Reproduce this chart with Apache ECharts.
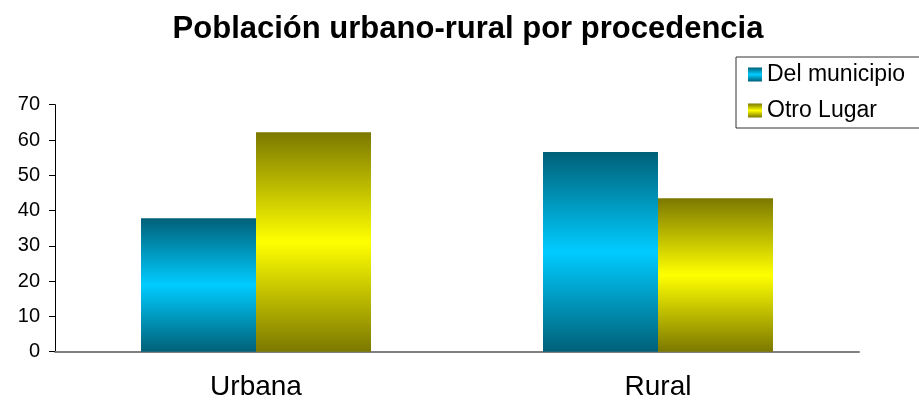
<!DOCTYPE html>
<html>
<head>
    <meta charset="utf-8">
    <title>ECharts</title>
    <script type="text/javascript" src="https://cdn.jsdelivr.net/npm/echarts@6/dist/echarts.min.js"></script>
</head>
<body style="margin:0">
    <div id="main" style="width: 919px;height:406px;"></div>
    <script type="text/javascript">
    var myChart = echarts.init(document.getElementById('main'));

    // datos
    var categorias = ['Urbana', 'Rural'];
    var delMunicipio = [37.8, 56.6];
    var otroLugar = [62.2, 43.5];
    var yTicks = [0, 10, 20, 30, 40, 50, 60, 70];

    function degradado(oscuro, claro) {
        return new echarts.graphic.LinearGradient(0, 0, 0, 1, [
            {offset: 0, color: oscuro},
            {offset: 0.5, color: claro},
            {offset: 1, color: oscuro}
        ]);
    }

    var fuente = '"Liberation Sans", Arial, sans-serif';

    option = {
        animation: false,
        title: {
            text: 'Población urbano-rural por procedencia',
            left: 463,
            textAlign: 'center',
            top: 9,
            textStyle: {
                fontFamily: fuente,
                fontSize: 31,
                fontWeight: 'bold',
                color: '#000'
            }
        },
        legend: {
            orient: 'vertical',
            left: 736,
            top: 57,
            padding: [6, 30, 6, 12],
            itemGap: 13,
            itemWidth: 14,
            itemHeight: 14,
            icon: 'rect',
            borderColor: '#333',
            borderWidth: 1,
            textStyle: {
                fontFamily: fuente,
                fontSize: 23,
                color: '#000'
            },
            data: ['Del municipio', 'Otro Lugar']
        },
        grid: {
            left: 55,
            right: 60,
            top: 104.7,
            bottom: 54.3
        },
        xAxis: {
            type: 'category',
            data: categorias,
            axisLine: {lineStyle: {color: '#808080', width: 2}},
            axisTick: {length: 6, lineStyle: {color: '#000'}},
            axisLabel: {
                margin: 22,
                fontFamily: fuente,
                fontSize: 28,
                color: '#000'
            }
        },
        yAxis: {
            type: 'value',
            min: yTicks[0],
            max: yTicks[yTicks.length - 1],
            interval: 10,
            splitLine: {show: false},
            axisLine: {show: true, lineStyle: {color: '#000'}},
            axisTick: {show: true, length: 6, lineStyle: {color: '#000'}},
            axisLabel: {
                margin: 15,
                fontFamily: fuente,
                fontSize: 20,
                color: '#000'
            }
        },
        series: [
            {
                name: 'Del municipio',
                type: 'bar',
                barWidth: 115,
                barGap: 0,
                itemStyle: {color: degradado('#006078', '#00ccff')},
                data: delMunicipio
            },
            {
                name: 'Otro Lugar',
                type: 'bar',
                barWidth: 115,
                barGap: 0,
                itemStyle: {color: degradado('#7b7800', '#ffff00')},
                data: otroLugar
            }
        ]
    };

    myChart.setOption(option);
    </script>
</body>
</html>
